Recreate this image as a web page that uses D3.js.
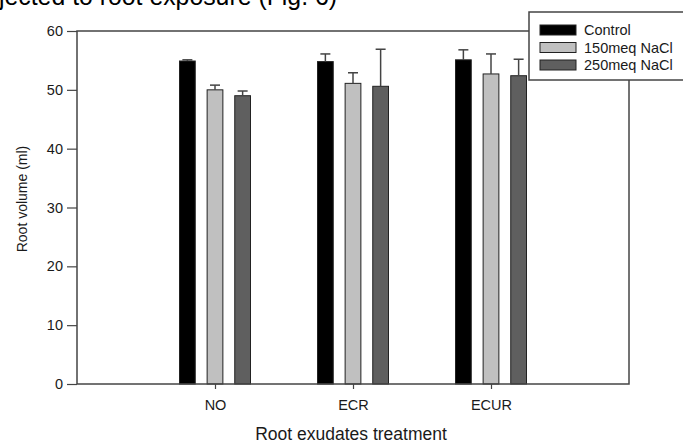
<!DOCTYPE html>
<html><head><meta charset="utf-8">
<script src="https://cdn.jsdelivr.net/npm/d3@7"></script>
<style>body{margin:0;background:#fff;}svg{display:block;font-family:Arial,"Liberation Sans",sans-serif;}</style>
</head><body>
<svg id="c" width="683" height="443"></svg>
<script>
const categories = ["NO", "ECR", "ECUR"];
const seriesNames = ["Control", "150meq NaCl", "250meq NaCl"];
const control = [54.9, 54.8, 55.1];
const nacl150 = [50.0, 51.1, 52.7];
const nacl250 = [49.0, 50.6, 52.4];
const errControl = [0.2, 1.3, 1.7];
const err150 = [0.8, 1.8, 3.4];
const err250 = [0.8, 6.3, 2.8];
const yTicks = [0, 10, 20, 30, 40, 50, 60];
const colors = ["#000000", "#c0c0c0", "#5f5f5f"];

const series = [control, nacl150, nacl250];
const errors = [errControl, err150, err250];

const svg = d3.select("#c");
const L = 77, R = 629, T = 31, B = 384;
const axisCol = "#444";
const txtCol = "#1a1a1a";

const x = d3.scaleLinear().domain([0, categories.length + 1]).range([L, R]);
const y = d3.scaleLinear().domain([0, 60]).range([B, T]);
const offset = d3.scaleBand().domain(d3.range(series.length)).range([-35.5, 35.5]).paddingInner(0.43);

// cut-off caption at top (only the lower part of the line is visible)
svg.append("text").attr("x", -1).attr("y", 5).attr("font-size", 26).attr("fill", "#000")
  .attr("textLength", 338).attr("lengthAdjust", "spacingAndGlyphs")
  .text("jected to root exposure (Fig. 6)");

// bars
series.forEach((s, si) => {
  const g = svg.append("g");
  g.selectAll("rect").data(s).join("rect")
    .attr("x", (d, i) => x(i + 1) + offset(si))
    .attr("width", offset.bandwidth())
    .attr("y", d => y(d))
    .attr("height", d => y(0) - y(d))
    .attr("fill", colors[si])
    .attr("stroke", "#222").attr("stroke-width", 1);
  g.selectAll("line.e").data(s).join("line").attr("class", "e")
    .attr("x1", (d, i) => x(i + 1) + offset(si) + offset.bandwidth() / 2)
    .attr("x2", (d, i) => x(i + 1) + offset(si) + offset.bandwidth() / 2)
    .attr("y1", d => y(d))
    .attr("y2", (d, i) => y(d + errors[si][i]))
    .attr("stroke", axisCol).attr("stroke-width", 1.5);
  g.selectAll("line.c").data(s).join("line").attr("class", "c")
    .attr("x1", (d, i) => x(i + 1) + offset(si) + offset.bandwidth() / 2 - 5)
    .attr("x2", (d, i) => x(i + 1) + offset(si) + offset.bandwidth() / 2 + 5)
    .attr("y1", (d, i) => y(d + errors[si][i]))
    .attr("y2", (d, i) => y(d + errors[si][i]))
    .attr("stroke", axisCol).attr("stroke-width", 1.5);
});

// frame
svg.append("rect").attr("x", L).attr("y", T).attr("width", R - L).attr("height", B - T)
  .attr("fill", "none").attr("stroke", axisCol).attr("stroke-width", 1.5);

// y axis
const yAxis = svg.append("g").attr("transform", `translate(${L},0)`)
  .call(d3.axisLeft(y).tickValues(yTicks).tickSize(10).tickPadding(4));
yAxis.select(".domain").remove();
yAxis.selectAll("line").attr("stroke", axisCol).attr("stroke-width", 1.2);
yAxis.selectAll("text").attr("font-size", 14.5).attr("fill", txtCol).attr("font-family", "Arial, 'Liberation Sans', sans-serif");

// x axis
const xAxis = svg.append("g").attr("transform", `translate(0,${B})`)
  .call(d3.axisBottom(x).tickValues(d3.range(1, categories.length + 1)).tickFormat(d => categories[d - 1]).tickSize(5).tickPadding(11));
xAxis.select(".domain").remove();
xAxis.selectAll("line").attr("stroke", axisCol).attr("stroke-width", 1.2);
xAxis.selectAll("text").attr("font-size", 14.5).attr("fill", txtCol).attr("font-family", "Arial, 'Liberation Sans', sans-serif");

// axis titles
svg.append("text").attr("x", 351).attr("y", 440).attr("text-anchor", "middle")
  .attr("font-size", 17.5).attr("fill", txtCol).text("Root exudates treatment");
svg.append("text").attr("transform", "translate(27,199) rotate(-90)").attr("text-anchor", "middle")
  .attr("font-size", 14).attr("fill", txtCol).text("Root volume (ml)");

// legend
const lg = svg.append("g");
lg.append("rect").attr("x", 529).attr("y", 12).attr("width", 170).attr("height", 68)
  .attr("fill", "#fff").attr("stroke", axisCol).attr("stroke-width", 1.5);
seriesNames.forEach((n, i) => {
  lg.append("rect").attr("x", 540).attr("y", 25 + i * 17.5).attr("width", 36).attr("height", 10)
    .attr("fill", colors[i]).attr("stroke", "#222").attr("stroke-width", 1);
  lg.append("text").attr("x", 584).attr("y", 35 + i * 17.5).attr("font-size", 14.5).attr("fill", txtCol).text(n);
});
</script>
</body></html>
